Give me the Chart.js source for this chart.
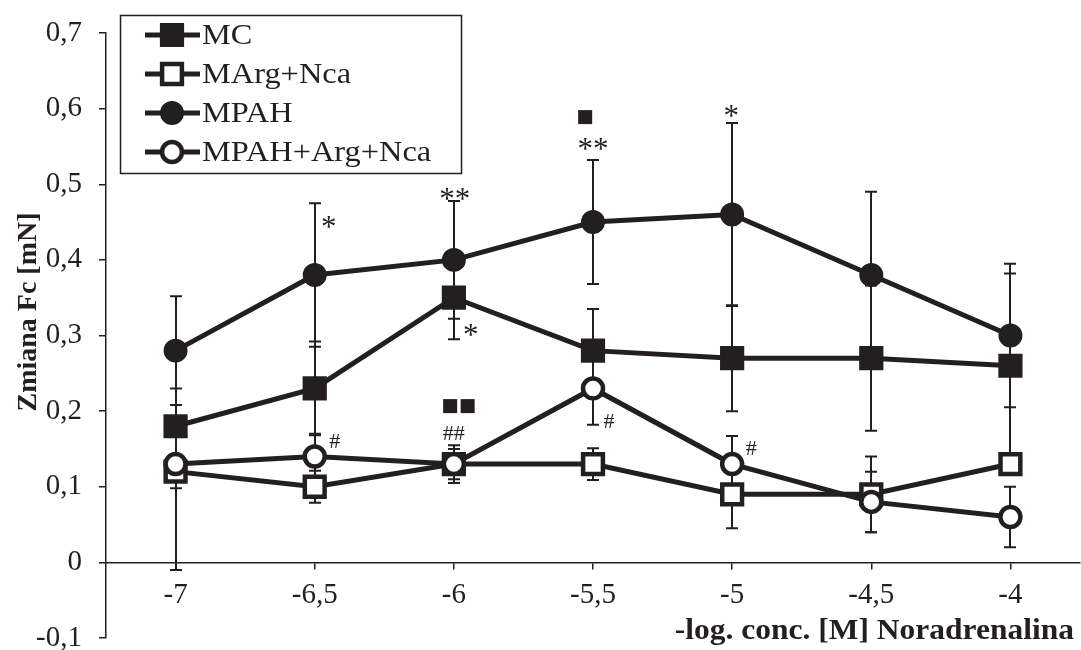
<!DOCTYPE html>
<html>
<head>
<meta charset="utf-8">
<script src="https://cdn.jsdelivr.net/npm/chart.js@4.4.0/dist/chart.umd.min.js"></script>
<style>
  html, body { margin: 0; padding: 0; background: #fff; }
  #wrap { width: 1081px; height: 650px; }
</style>
</head>
<body>
<div id="wrap"><canvas id="chart" width="1081" height="650"></canvas></div>
<script>
var ink = '#231f20';
var serif = '"Liberation Serif", "Times New Roman", serif';

// stężenia noradrenaliny (-log M)
var concentrations = ['-7', '-6,5', '-6', '-5,5', '-5', '-4,5', '-4'];

var seriesNames = ['MC', 'MArg+Nca', 'MPAH', 'MPAH+Arg+Nca'];

var mcValues = [0.18, 0.23, 0.35, 0.28, 0.27, 0.27, 0.26];
var mcErrors = [0.05, 0.062, 0.055, 0.055, 0.07, 0.096, 0.122];

var margValues = [0.12, 0.10, 0.13, 0.13, 0.09, 0.09, 0.13];
var margErrors = [0.022, 0.021, 0.02, 0.021, 0.045, 0.05, 0.01];

var mpahValues = [0.28, 0.38, 0.40, 0.45, 0.46, 0.38, 0.30];
var mpahErrors = [0.072, 0.095, 0.078, 0.082, 0.121, 0.11, 0.095];

var mpahArgValues = [0.13, 0.14, 0.13, 0.23, 0.13, 0.08, 0.06];
var mpahArgErrors = [0.14, 0.03, 0.025, 0.048, 0.037, 0.04, 0.04];

var yTicks = [-0.1, 0, 0.1, 0.2, 0.3, 0.4, 0.5, 0.6, 0.7];

// oznaczenia istotności
var noteCats = ['-6,5', '-6', '-6', '-5,5', '-5,5', '-5', '-6', '-6', '-6,5', '-5,5', '-5'];
var noteLevels = [0.453, 0.49, 0.31, 0.588, 0.556, 0.6, 0.206, 0.172, 0.161, 0.188, 0.152];
var noteTexts = ['*', '**', '*', '\u25A0', '**', '*', '\u25A0\u25A0', '##', '#', '#', '#'];
var noteShift = [14, 1, 17, -8, 0, -1, 5, 0, 20, 16, 19];

var xTitle = '-log. conc. [M] Noradrenalina';
var yTitle = 'Zmiana Fc [mN]';

var stretch = 1.08; // tekst w oryginale jest lekko rozciągnięty w poziomie

function makeSet(i, values, errors, style, filled, radius, bw) {
    return {
        label: seriesNames[i],
        data: values,
        errors: errors,
        borderColor: ink,
        borderWidth: 5,
        pointStyle: style,
        pointRadius: radius,
        pointHoverRadius: radius,
        pointBorderWidth: bw,
        pointBorderColor: ink,
        pointBackgroundColor: filled ? ink : '#ffffff',
        fill: false,
        tension: 0,
        order: 4 - i
    };
}

var datasets = [
    makeSet(0, mcValues, mcErrors, 'rect', true, 15, 3),
    makeSet(1, margValues, margErrors, 'rect', false, 14, 4.5),
    makeSet(2, mpahValues, mpahErrors, 'circle', true, 10.5, 3),
    makeSet(3, mpahArgValues, mpahArgErrors, 'circle', false, 10, 4.5)
];

var errorBars = {
    id: 'errorBars',
    beforeDatasetsDraw: function (chart) {
        var ctx = chart.ctx, xs = chart.scales.x, ys = chart.scales.y;
        ctx.save();
        ctx.strokeStyle = ink;
        ctx.lineWidth = 2;
        chart.data.datasets.forEach(function (ds) {
            ds.data.forEach(function (v, i) {
                var e = ds.errors[i];
                var px = Math.round(xs.getPixelForValue(i));
                var top = ys.getPixelForValue(v + e);
                var bot = ys.getPixelForValue(v - e);
                ctx.beginPath();
                ctx.moveTo(px, top); ctx.lineTo(px, bot);
                ctx.moveTo(px - 6, top); ctx.lineTo(px + 6, top);
                ctx.moveTo(px - 6, bot); ctx.lineTo(px + 6, bot);
                ctx.stroke();
            });
        });
        ctx.restore();
    }
};

function drawMarker(ctx, ds, x, y) {
    ctx.save();
    ctx.lineWidth = ds.pointBorderWidth;
    ctx.strokeStyle = ink;
    ctx.fillStyle = ds.pointBackgroundColor;
    ctx.beginPath();
    if (ds.pointStyle === 'rect') {
        var s = ds.pointRadius * Math.SQRT1_2;
        ctx.rect(x - s, y - s, 2 * s, 2 * s);
    } else {
        ctx.arc(x, y, ds.pointRadius, 0, Math.PI * 2);
    }
    ctx.fill();
    ctx.stroke();
    ctx.restore();
}

function stretchedText(ctx, text, x, y, k) {
    ctx.save();
    ctx.translate(x, y);
    ctx.scale(k || stretch, 1);
    ctx.fillText(text, 0, 0);
    ctx.restore();
}

var extras = {
    id: 'extras',
    afterDraw: function (chart) {
        var ctx = chart.ctx, xs = chart.scales.x, ys = chart.scales.y;
        ctx.save();
        ctx.fillStyle = ink;

        // adnotacje
        for (var i = 0; i < noteTexts.length; i++) {
            var t = noteTexts[i];
            var px = xs.getPixelForValue(concentrations.indexOf(noteCats[i])) + noteShift[i];
            var py = ys.getPixelForValue(noteLevels[i]);
            var size, lift;
            if (t.charAt(0) === '*') { size = 31; lift = 0.55; }
            else if (t.charAt(0) === '#') { size = 22; lift = 0.34; }
            else { size = 29; lift = 0.3; }
            ctx.font = size + 'px ' + serif;
            ctx.textAlign = 'center';
            ctx.textBaseline = 'alphabetic';
            ctx.fillText(t, px, py + lift * size);
        }

        // tytuł osi X
        ctx.font = 'bold 30px ' + serif;
        ctx.textAlign = 'right';
        ctx.textBaseline = 'alphabetic';
        stretchedText(ctx, xTitle, 1074, 639, 1.05);

        // tytuł osi Y
        ctx.save();
        ctx.translate(29, 312);
        ctx.rotate(-Math.PI / 2);
        ctx.font = 'bold 28px ' + serif;
        ctx.textAlign = 'center';
        ctx.textBaseline = 'middle';
        ctx.fillText(yTitle, 0, 0);
        ctx.restore();

        // legenda
        ctx.lineWidth = 1.5;
        ctx.strokeStyle = ink;
        ctx.strokeRect(120.5, 15.5, 341, 158);
        var rows = [35, 74, 113, 152];
        chart.data.datasets.forEach(function (ds, k) {
            var yy = rows[k];
            ctx.lineWidth = 5;
            ctx.beginPath();
            ctx.moveTo(145, yy); ctx.lineTo(200, yy);
            ctx.stroke();
            drawMarker(ctx, ds, 172, yy);
            ctx.fillStyle = ink;
            ctx.font = '30px ' + serif;
            ctx.textAlign = 'left';
            ctx.textBaseline = 'middle';
            stretchedText(ctx, ds.label, 202, yy + 1);
        });
        ctx.restore();
    }
};

new Chart(document.getElementById('chart'), {
    type: 'line',
    data: { labels: concentrations, datasets: datasets },
    options: {
        responsive: false,
        animation: false,
        devicePixelRatio: 1,
        layout: { autoPadding: false, padding: { top: 33, bottom: 12, left: 0, right: 1 } },
        plugins: { legend: { display: false }, tooltip: { enabled: false } },
        scales: {
            x: {
                type: 'category',
                offset: true,
                position: { y: 0 },
                afterFit: function (scale) { scale.paddingLeft = 0; scale.paddingRight = 0; },
                grid: { drawOnChartArea: false, drawTicks: true, tickLength: 6, color: ink, lineWidth: 1.5 },
                border: { display: true, color: ink, width: 1.5 },
                ticks: { color: ink, font: { family: serif, size: 29 }, padding: 10, maxRotation: 0, autoSkip: false }
            },
            y: {
                min: -0.1,
                max: 0.7,
                afterFit: function (scale) {
                    scale.width = 106;
                    scale.paddingTop = 0;
                    scale.paddingBottom = 0;
                },
                afterBuildTicks: function (scale) {
                    scale.ticks = yTicks.map(function (v) { return { value: v }; });
                },
                grid: { drawOnChartArea: false, drawTicks: true, tickLength: 7, color: ink, lineWidth: 1.5 },
                border: { display: true, color: ink, width: 1.5 },
                ticks: {
                    color: ink,
                    padding: 17,
                    font: { family: serif, size: 29 },
                    callback: function (v) {
                        var r = Math.round(v * 10) / 10;
                        return r === 0 ? '0' : r.toFixed(1).replace('.', ',');
                    }
                }
            }
        }
    },
    plugins: [errorBars, extras]
});
</script>
</body>
</html>
